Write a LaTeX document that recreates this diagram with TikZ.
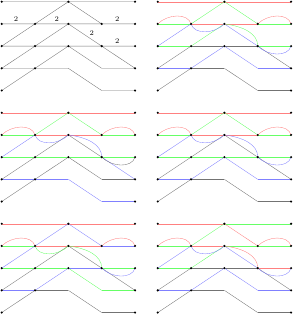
\documentclass[tikz,border=0pt]{standalone}
\usepackage{tikz}

\begin{document}
\begin{tikzpicture}[
  x=1cm, y=-0.666cm,
  wred/.style={draw=red!50, line width=0.3pt},
  wgreen/.style={draw=green!60, line width=0.3pt},
  wblue/.style={draw=blue!50, line width=0.3pt},
  wgrey/.style={draw=black!55, line width=0.3pt},
  dot/.style={circle, fill=black, inner sep=0pt, minimum size=2pt},
  lab/.style={inner sep=0pt, font=\fontsize{6}{7}\selectfont},
  arcup/.style={to path={.. controls +(0.3,-0.45) and +(-0.1,-0.5) .. (\tikztotarget)}},
  arcdown/.style={to path={.. controls +(0.3,0.45) and +(-0.1,0.5) .. (\tikztotarget)}},
  sag/.style={to path={.. controls +(0.1,0.5) and +(-0.3,0.45) .. (\tikztotarget)}},
  bulge/.style={to path={.. controls +(0.6,0.12) and +(0,-0.55) .. (\tikztotarget)}}
]
\useasboundingbox (-0.051,-0.077) rectangle (8.739,14.11);
% grid points of the six panels
\foreach \p/\x/\y in {a/0/0, b/4.68/0, c/0/5, d/4.68/5, e/0/10, f/4.68/10} {
  \foreach \i in {0,...,4} {
    \foreach \j in {0,...,4} {
      \coordinate (\p\i\j) at (\x+\i,\y+\j);
    }
  }
}
% panel a
\draw[wgrey] (a00) -- (a40) (a01) -- (a41) (a02) -- (a42) (a03) -- (a23) -- (a34) -- (a44)
  (a02) -- (a20) -- (a31) (a03) -- (a21) -- (a43) (a04) -- (a22) -- (a33) -- (a43);
\node[lab] (two1) at (0.43,0.78) {2};
\node[lab] (two2) at (1.65,0.78) {2};
\node[lab] (two3) at (3.47,0.78) {2};
\node[lab] (two4) at (2.70,1.42) {2};
\node[lab] (two5) at (3.47,1.76) {2};
% panel b
\foreach \s/\t/\c in {00/20/wred, 01/11/wgreen, 11/21/wred, 02/12/wgreen, 12/22/wgrey, 03/13/wblue, 13/23/wgrey,
  02/11/wblue, 11/20/wgreen, 03/12/wgrey, 12/21/wgreen, 04/13/wgrey, 13/22/wblue,
  20/40/wred, 21/31/wred, 31/41/wgreen, 22/32/wgrey, 32/42/wgreen, 20/31/wgreen, 21/32/wblue,
  32/43/wgrey, 22/33/wblue, 33/43/wblue, 23/34/wgrey, 34/44/wgrey} {
  \draw[\c] (b\s) -- (b\t);
}
\foreach \s/\t/\c/\k in {01/11/wred/arcup, 11/21/wblue/sag, 21/32/wgreen/bulge, 32/42/wblue/arcdown, 31/41/wred/arcup} {
  \draw[\c] (b\s) to[\k] (b\t);
}
% panel c
\foreach \s/\t/\c in {00/20/wred, 01/11/wgreen, 11/21/wred, 02/12/wgreen, 12/22/wgreen, 03/13/wblue, 13/23/wblue,
  02/11/wblue, 11/20/wgreen, 03/12/wgrey, 12/21/wgrey, 04/13/wgrey, 13/22/wgrey,
  20/40/wred, 21/31/wred, 31/41/wgreen, 22/32/wgreen, 32/42/wgreen, 20/31/wgreen, 21/32/wgrey,
  32/43/wblue, 22/33/wgrey, 33/43/wgrey, 23/34/wblue, 34/44/wblue} {
  \draw[\c] (c\s) -- (c\t);
}
\foreach \s/\t/\c/\k in {01/11/wred/arcup, 11/21/wblue/sag, 21/32/wblue/bulge, 32/42/wgrey/arcdown, 31/41/wred/arcup} {
  \draw[\c] (c\s) to[\k] (c\t);
}
% panel d
\foreach \s/\t/\c in {00/20/wred, 01/11/wgreen, 11/21/wred, 02/12/wgreen, 12/22/wgreen, 03/13/wblue, 13/23/wgrey,
  02/11/wblue, 11/20/wgreen, 03/12/wgrey, 12/21/wgrey, 04/13/wgrey, 13/22/wblue,
  20/40/wred, 21/31/wred, 31/41/wgreen, 22/32/wgreen, 32/42/wgreen, 20/31/wgreen, 21/32/wgrey,
  32/43/wgrey, 22/33/wblue, 33/43/wblue, 23/34/wgrey, 34/44/wgrey} {
  \draw[\c] (d\s) -- (d\t);
}
\foreach \s/\t/\c/\k in {01/11/wred/arcup, 11/21/wblue/sag, 21/32/wblue/bulge, 32/42/wblue/arcdown, 31/41/wred/arcup} {
  \draw[\c] (d\s) to[\k] (d\t);
}
% panel e
\foreach \s/\t/\c in {00/20/wred, 01/11/wgreen, 11/21/wred, 02/12/wgreen, 12/22/wgreen, 03/13/wblue, 13/23/wgrey,
  02/11/wblue, 11/20/wblue, 03/12/wgrey, 12/21/wgrey, 04/13/wgrey, 13/22/wblue,
  20/40/wred, 21/31/wred, 31/41/wblue, 22/32/wblue, 32/42/wgreen, 20/31/wblue, 21/32/wgrey,
  32/43/wgrey, 22/33/wgreen, 33/43/wgreen, 23/34/wgrey, 34/44/wgrey} {
  \draw[\c] (e\s) -- (e\t);
}
\foreach \s/\t/\c/\k in {01/11/wred/arcup, 11/21/wgreen/sag, 21/32/wgreen/bulge, 32/42/wblue/arcdown, 31/41/wred/arcup} {
  \draw[\c] (e\s) to[\k] (e\t);
}
% panel f
\foreach \s/\t/\c in {00/20/wred, 01/11/wgreen, 11/21/wred, 02/12/wgreen, 12/22/wgrey, 03/13/wblue, 13/23/wgrey,
  02/11/wblue, 11/20/wgreen, 03/12/wgrey, 12/21/wgreen, 04/13/wgrey, 13/22/wblue,
  20/40/wgreen, 21/31/wgreen, 31/41/wgreen, 22/32/wgrey, 32/42/wred, 20/31/wred, 21/32/wblue,
  32/43/wgrey, 22/33/wblue, 33/43/wblue, 23/34/wgrey, 34/44/wgrey} {
  \draw[\c] (f\s) -- (f\t);
}
\foreach \s/\t/\c/\k in {01/11/wred/arcup, 11/21/wblue/sag, 21/32/wred/bulge, 32/42/wblue/arcdown, 31/41/wred/arcup} {
  \draw[\c] (f\s) to[\k] (f\t);
}
% dots
\foreach \p in {a,b,c,d,e,f} {
  \foreach \q in {00,20,40,01,11,21,31,41,02,12,22,32,42,03,13,43,04,44} {
    \node[dot] (dot\p\q) at (\p\q) {};
  }
}
\end{tikzpicture}
\end{document}
